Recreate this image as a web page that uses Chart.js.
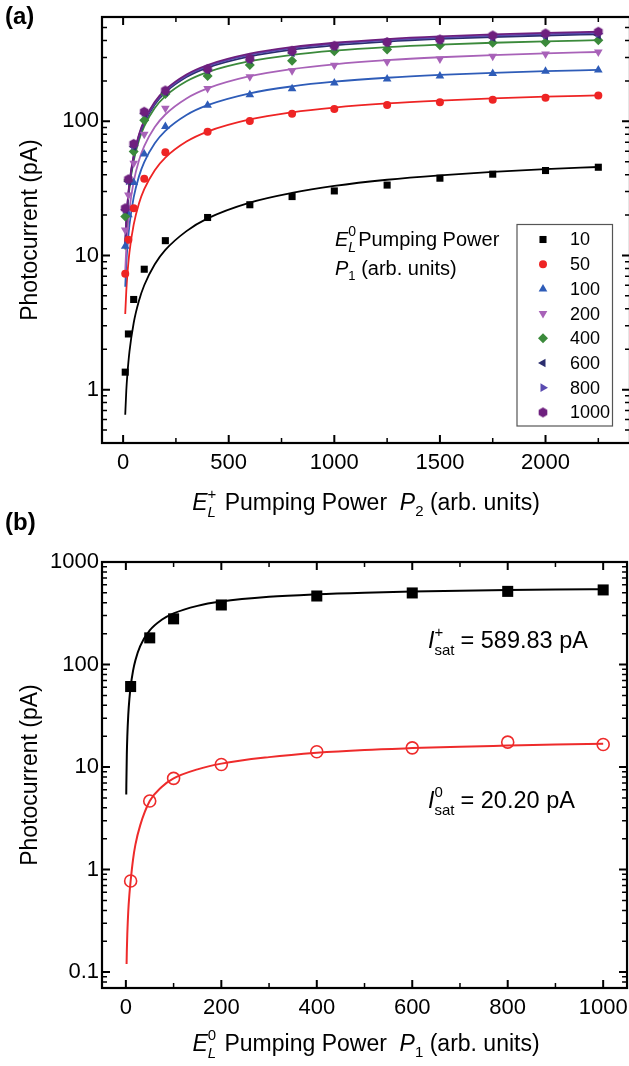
<!DOCTYPE html>
<html>
<head>
<meta charset="utf-8">
<script src="https://cdn.jsdelivr.net/npm/chart.js@4.4.0/dist/chart.umd.min.js"></script>
<style>
  html, body { margin: 0; padding: 0; background: #fff; overflow: hidden; }
  #wrap { position: relative; width: 629px; height: 1066px; overflow: hidden; }
  canvas { position: absolute; left: 0; }
  #chartA { top: 0; }
  #chartB { top: 505px; }
</style>
</head>
<body>
<div id="wrap">
  <canvas id="chartA" width="635" height="520"></canvas>
  <canvas id="chartB" width="635" height="561"></canvas>
</div>
<script>
var FONT = "'Liberation Sans', Arial, sans-serif";

// ---- panel (a): photocurrent vs P2 for several P1 ----
var seriesA = ['10', '50', '100', '200', '400', '600', '800', '1000'];
var colorsA = ['#000000', '#ee2424', '#2e5cb8', '#a862b8', '#3b8a3b', '#2b2e6e', '#5a4bb0', '#6e1f7e'];
var p2Data = [10, 25, 50, 100, 200, 400, 600, 800, 1000, 1250, 1500, 1750, 2000, 2250];
var pts10 = [1.35, 2.6, 4.7, 7.9, 12.9, 19.2, 23.9, 27.5, 30.3, 33.5, 37.7, 40.4, 43, 45.5];
var pts50 = [7.3, 13.1, 22.5, 37.3, 58.9, 83.8, 100.7, 114, 123.7, 132.4, 138.6, 145, 150, 156];
var pts100 = [11.7, 20.1, 35, 57.2, 91.4, 132, 158, 175, 193, 207, 218, 227, 236, 242];
var pts200 = [15.5, 28.3, 48.8, 80, 125, 176, 215, 238, 262, 278, 292, 306, 318, 329];
var pts400 = [19.5, 36.6, 59.5, 102, 160, 218, 263, 283, 333, 343, 370, 385, 389, 403];
var pts600 = [21.9, 35.6, 64.8, 115, 165, 241, 287, 324, 360, 385, 403, 420, 432, 439];
var pts800 = [22, 36, 66, 116, 167, 243, 290, 330, 362, 387, 405, 428, 442, 452];
var pts1000 = [22.5, 37, 68, 118, 170, 246, 294, 336, 366, 390, 408, 437, 452, 466];

// fitted curves
var p2Fit = [10, 15, 20, 30, 50, 75, 100, 150, 200, 300, 400, 600, 800, 1000, 1250, 1500, 1750, 2000, 2250];
var fit10 = [0.65, 0.98, 1.29, 1.92, 3.14, 4.6, 6.0, 8.6, 11.0, 15.2, 18.9, 24.8, 29.3, 33.0, 36.7, 39.6, 42.0, 44.0, 45.7];
var fit50 = [3.66, 5.43, 7.17, 10.6, 17.0, 24.4, 31.2, 43.3, 53.7, 70.7, 83.9, 103.3, 116.8, 126.7, 136.0, 142.9, 148.4, 152.7, 156.2];
var fit100 = [5.85, 8.69, 11.5, 16.9, 27.1, 38.9, 49.7, 68.7, 85.0, 111.5, 132.0, 161.8, 182.4, 197.5, 211.4, 221.9, 230.1, 236.6, 241.9];
var fit200 = [7.64, 11.4, 15.0, 22.1, 35.5, 51.0, 65.3, 90.7, 112.5, 148.2, 176.1, 217.0, 245.5, 266.4, 286.0, 300.7, 312.3, 321.4, 328.9];
var fit400 = [11.1, 16.5, 21.7, 31.9, 50.9, 72.4, 91.9, 125.8, 154.2, 199.2, 233.2, 281.2, 313.4, 336.6, 357.8, 373.4, 385.5, 395.0, 402.8];
var fit600 = [11.6, 17.3, 22.8, 33.4, 53.5, 76.4, 97.3, 133.8, 164.6, 214.0, 251.8, 305.7, 342.4, 369.0, 393.4, 411.5, 425.6, 436.7, 445.8];
var fit800 = [11.9, 17.7, 23.3, 34.3, 54.8, 78.3, 99.6, 137.0, 168.6, 219.2, 257.9, 313.1, 350.7, 377.9, 402.9, 421.5, 435.9, 447.3, 456.7];
var fit1000 = [12.2, 18.0, 23.8, 34.9, 55.9, 79.9, 101.6, 139.8, 172.0, 223.6, 263.1, 319.4, 357.8, 385.5, 411.0, 430.0, 444.7, 456.3, 465.8];

var xMajorA = [0, 500, 1000, 1500, 2000];
var xMinorA = [250, 750, 1250, 1750, 2250];
var yMajorA = [1, 10, 100];

// ---- panel (b): photocurrent vs P1 ----
var p1Data = [10, 50, 100, 200, 400, 600, 800, 1000];
var ptsPlus = [61, 182, 279, 381, 466, 499, 517, 534];
var ptsZero = [0.774, 4.66, 7.76, 10.6, 14.1, 15.4, 17.5, 16.6];
var p1FitPlus = [0.8, 1, 2, 3, 5, 7.5, 10, 15, 20, 30, 50, 75, 100, 150, 200, 300, 400, 500, 600, 700, 800, 900, 1000];
var fitPlus = [5.4, 6.7, 13.3, 19.7, 32.1, 46.8, 60.8, 86.8, 110.3, 151.3, 215.3, 273.1, 315.5, 373.4, 411.1, 457.4, 484.6, 502.6, 515.3, 524.8, 532.1, 538.0, 542.8];
var p1FitZero = [1.5, 2, 3, 5, 7.5, 10, 15, 20, 30, 50, 75, 100, 150, 200, 300, 400, 500, 600, 700, 800, 900, 1000];
var fitZero = [0.12, 0.16, 0.235, 0.39, 0.58, 0.774, 1.25, 1.75, 2.7, 4.66, 6.4, 7.76, 9.5, 10.8, 12.5, 13.8, 14.7, 15.3, 15.8, 16.2, 16.6, 16.9];

var xMajorB = [0, 200, 400, 600, 800, 1000];
var xMinorB = [100, 300, 500, 700, 900];
var yMajorB = [0.1, 1, 10, 100, 1000];

function pts(xs, ys) {
    return xs.map(function (x, i) { return { x: x, y: ys[i] }; });
}

function logMinors(lo, hi) {
    var out = [];
    for (var d = Math.floor(Math.log10(lo)); d <= Math.ceil(Math.log10(hi)); d++) {
        for (var k = 2; k <= 9; k++) {
            var v = k * Math.pow(10, d);
            if (v > lo && v < hi) out.push(v);
        }
    }
    return out;
}

function hexagon(color, r) {
    var c = document.createElement('canvas');
    c.width = c.height = Math.ceil(2 * r + 2);
    var g = c.getContext('2d');
    g.fillStyle = color;
    g.beginPath();
    for (var i = 0; i < 6; i++) {
        var a = Math.PI / 6 + i * Math.PI / 3;
        var px = c.width / 2 + r * Math.cos(a), py = c.height / 2 + r * Math.sin(a);
        if (i === 0) g.moveTo(px, py); else g.lineTo(px, py);
    }
    g.closePath();
    g.fill();
    return c;
}

var stylesA = [
    { pointStyle: 'rect', rotation: 0, radius: 5 },
    { pointStyle: 'circle', rotation: 0, radius: 4 },
    { pointStyle: 'triangle', rotation: 0, radius: 5 },
    { pointStyle: 'triangle', rotation: 180, radius: 5 },
    { pointStyle: 'rectRot', rotation: 0, radius: 5 },
    { pointStyle: 'triangle', rotation: 270, radius: 5 },
    { pointStyle: 'triangle', rotation: 90, radius: 5 },
    { pointStyle: hexagon(colorsA[7], 5), rotation: 0, radius: 5 }
];

function fontOf(size, italic, bold) {
    return (italic ? 'italic ' : '') + (bold ? 'bold ' : '') + size + 'px ' + FONT;
}

function partWidth(ctx, p) {
    if (p.sub !== undefined) {
        ctx.font = fontOf(p.size, p.subItalic);
        var w1 = ctx.measureText(p.sub).width;
        ctx.font = fontOf(p.size, false);
        var w2 = ctx.measureText(p.sup).width;
        return Math.max(w1, w2) + (p.gap || 0);
    }
    ctx.font = fontOf(p.size, p.italic);
    return ctx.measureText(p.t).width + (p.gap || 0);
}

function drawRich(ctx, parts, x, y, align) {
    var total = 0;
    parts.forEach(function (p) { total += partWidth(ctx, p); });
    var cx = align === 'center' ? x - total / 2 : x;
    ctx.textAlign = 'left';
    ctx.textBaseline = 'alphabetic';
    ctx.fillStyle = '#000';
    parts.forEach(function (p) {
        var w = partWidth(ctx, p);
        if (p.sub !== undefined) {
            ctx.font = fontOf(p.size, p.subItalic);
            ctx.fillText(p.sub, cx, y + p.size * 0.45);
            ctx.font = fontOf(p.size, false);
            ctx.fillText(p.sup, cx, y - p.size * 0.72);
        } else {
            ctx.font = fontOf(p.size, p.italic);
            ctx.fillText(p.t, cx, y + (p.dy || 0));
        }
        cx += w;
    });
}

function drawFrame(chart, xMajor, xMinor, yMajor, yMinor) {
    var ctx = chart.ctx, a = chart.chartArea, x = chart.scales.x, y = chart.scales.y;
    ctx.save();
    ctx.strokeStyle = '#000';
    ctx.lineWidth = 2.2;
    ctx.strokeRect(a.left, a.top, a.right - a.left, a.bottom - a.top);
    function ticks(list, len, lw) {
        ctx.lineWidth = lw;
        ctx.beginPath();
        list.forEach(function (v) {
            var px = x.getPixelForValue(v);
            ctx.moveTo(px, a.bottom); ctx.lineTo(px, a.bottom - len);
            ctx.moveTo(px, a.top); ctx.lineTo(px, a.top + len);
        });
        ctx.stroke();
    }
    function yticks(list, len, lw) {
        ctx.lineWidth = lw;
        ctx.beginPath();
        list.forEach(function (v) {
            var py = y.getPixelForValue(v);
            ctx.moveTo(a.left, py); ctx.lineTo(a.left + len, py);
            ctx.moveTo(a.right, py); ctx.lineTo(a.right - len, py);
        });
        ctx.stroke();
    }
    ticks(xMajor, 8, 2);
    ticks(xMinor, 5, 1.5);
    yticks(yMajor, 8, 2);
    yticks(yMinor, 5, 1.5);
    ctx.restore();
}

function yTitle(ctx, cx, cy) {
    ctx.save();
    ctx.translate(cx, cy);
    ctx.rotate(-Math.PI / 2);
    ctx.font = fontOf(23);
    ctx.fillStyle = '#000';
    ctx.textAlign = 'center';
    ctx.textBaseline = 'middle';
    ctx.fillText('Photocurrent (pA)', 0, 0);
    ctx.restore();
}

function panelLabel(ctx, text, x, y) {
    ctx.save();
    ctx.font = fontOf(24, false, true);
    ctx.fillStyle = '#000';
    ctx.textAlign = 'left';
    ctx.textBaseline = 'middle';
    ctx.fillText(text, x, y);
    ctx.restore();
}

function markPoint(ctx, st, color, px, py) {
    ctx.fillStyle = color;
    ctx.strokeStyle = color;
    Chart.helpers.drawPoint(ctx, { pointStyle: st.pointStyle, rotation: st.rotation, radius: st.radius, borderWidth: 0 }, px, py);
}

function xScale(min, max, major, height) {
    return {
        type: 'linear', min: min, max: max,
        grid: { display: false, drawTicks: false },
        border: { display: false },
        afterBuildTicks: function (s) { s.ticks = major.map(function (v) { return { value: v }; }); },
        afterFit: function (s) { s.height = height; },
        ticks: {
            font: { family: FONT, size: 22 }, color: '#000', padding: 7,
            autoSkip: false, maxRotation: 0, minRotation: 0,
            callback: function (v) { return String(v); }
        }
    };
}

function yScale(min, max, major) {
    return {
        type: 'logarithmic', min: min, max: max,
        grid: { display: false, drawTicks: false },
        border: { display: false },
        afterBuildTicks: function (s) { s.ticks = major.map(function (v) { return { value: v }; }); },
        afterFit: function (s) { s.width = 102; },
        ticks: {
            font: { family: FONT, size: 22 }, color: '#000', padding: 3,
            autoSkip: false,
            callback: function (v) { return String(v); }
        }
    };
}

// ---------- chart (a) ----------
var fitsA = [fit10, fit50, fit100, fit200, fit400, fit600, fit800, fit1000];
var ptsA = [pts10, pts50, pts100, pts200, pts400, pts600, pts800, pts1000];
var datasetsA = [];
seriesA.forEach(function (name, i) {
    datasetsA.push({
        label: name + ' fit',
        data: pts(p2Fit, fitsA[i]),
        showLine: true,
        borderColor: colorsA[i],
        borderWidth: 1.8,
        pointRadius: 0,
        cubicInterpolationMode: 'monotone',
        order: 30 - i
    });
    datasetsA.push({
        label: name,
        data: pts(p2Data, ptsA[i]),
        showLine: false,
        pointStyle: stylesA[i].pointStyle,
        rotation: stylesA[i].rotation,
        pointRadius: stylesA[i].radius,
        pointHoverRadius: stylesA[i].radius,
        backgroundColor: colorsA[i],
        borderColor: colorsA[i],
        borderWidth: 0,
        order: 10 - i
    });
});

var decorA = {
    id: 'decorA',
    afterDraw: function (chart) {
        var ctx = chart.ctx;
        drawFrame(chart, xMajorA, xMinorA, yMajorA, logMinors(0.4, 600));
        panelLabel(ctx, '(a)', 5, 17);
        yTitle(ctx, 31, 230);
        drawRich(ctx, [
            { t: 'E', size: 23, italic: true },
            { sub: 'L', sup: '+', size: 15, subItalic: true, gap: 2 },
            { t: ' Pumping Power  ', size: 23 },
            { t: 'P', size: 23, italic: true },
            { t: '2', size: 15, dy: 6 },
            { t: ' (arb. units)', size: 23 }
        ], 366, 510, 'center');

        // annotation
        drawRich(ctx, [
            { t: 'E', size: 20, italic: true },
            { sub: 'L', sup: '0', size: 14, subItalic: true, gap: 2 },
            { t: 'Pumping Power', size: 20 }
        ], 335, 246, 'left');
        drawRich(ctx, [
            { t: 'P', size: 20, italic: true },
            { t: '1', size: 13, dy: 5 },
            { t: ' (arb. units)', size: 20 }
        ], 335, 275, 'left');

        // legend
        ctx.save();
        ctx.fillStyle = '#fff';
        ctx.fillRect(517, 224.5, 95.5, 201.5);
        ctx.strokeStyle = '#555';
        ctx.lineWidth = 1.2;
        ctx.strokeRect(517, 224.5, 95.5, 201.5);
        seriesA.forEach(function (name, i) {
            var ry = 239.5 + 24.7 * i;
            markPoint(ctx, stylesA[i], colorsA[i], 543, ry);
            ctx.font = fontOf(18);
            ctx.fillStyle = '#000';
            ctx.textAlign = 'left';
            ctx.textBaseline = 'middle';
            ctx.fillText(name, 570, ry + 1);
        });
        ctx.restore();
    }
};

new Chart(document.getElementById('chartA'), {
    type: 'scatter',
    data: { datasets: datasetsA },
    options: {
        responsive: false,
        animation: false,
        events: [],
        layout: { padding: { top: 17, left: 0, right: 2, bottom: 0 } },
        plugins: { legend: { display: false }, tooltip: { enabled: false } },
        scales: {
            x: xScale(-100, 2400, xMajorA, 77),
            y: yScale(0.4, 600, yMajorA)
        }
    },
    plugins: [decorA]
});

// ---------- chart (b) ----------
var decorB = {
    id: 'decorB',
    afterDraw: function (chart) {
        var ctx = chart.ctx;
        drawFrame(chart, xMajorB, xMinorB, yMajorB, logMinors(0.07, 1000));
        panelLabel(ctx, '(b)', 5, 18);
        yTitle(ctx, 31, 270);
        drawRich(ctx, [
            { t: 'E', size: 23, italic: true },
            { sub: 'L', sup: '0', size: 15, subItalic: true, gap: 2 },
            { t: ' Pumping Power  ', size: 23 },
            { t: 'P', size: 23, italic: true },
            { t: '1', size: 15, dy: 6 },
            { t: ' (arb. units)', size: 23 }
        ], 366, 546, 'center');
        drawRich(ctx, [
            { t: 'I', size: 23.5, italic: true },
            { sub: 'sat', sup: '+', size: 15, subItalic: false, gap: 6 },
            { t: '= 589.83 pA', size: 23.5 }
        ], 428, 143, 'left');
        drawRich(ctx, [
            { t: 'I', size: 23.5, italic: true },
            { sub: 'sat', sup: '0', size: 15, subItalic: false, gap: 6 },
            { t: '= 20.20 pA', size: 23.5 }
        ], 428, 303, 'left');
    }
};

new Chart(document.getElementById('chartB'), {
    type: 'scatter',
    data: {
        datasets: [
            {
                label: 'I+ fit', data: pts(p1FitPlus, fitPlus), showLine: true,
                borderColor: '#000', borderWidth: 2, pointRadius: 0,
                cubicInterpolationMode: 'monotone', order: 4
            },
            {
                label: 'I0 fit', data: pts(p1FitZero, fitZero), showLine: true,
                borderColor: '#ee2b2b', borderWidth: 2, pointRadius: 0,
                cubicInterpolationMode: 'monotone', order: 3
            },
            {
                label: 'I+', data: pts(p1Data, ptsPlus), showLine: false,
                pointStyle: 'rect', pointRadius: 7.8, pointHoverRadius: 7.8,
                backgroundColor: '#000', borderColor: '#000', borderWidth: 0, order: 1
            },
            {
                label: 'I0', data: pts(p1Data, ptsZero), showLine: false,
                pointStyle: 'circle', pointRadius: 6, pointHoverRadius: 6,
                backgroundColor: 'rgba(0,0,0,0)', borderColor: '#ee2b2b', borderWidth: 1.6, order: 2
            }
        ]
    },
    options: {
        responsive: false,
        animation: false,
        events: [],
        layout: { padding: { top: 57, left: 0, right: 2, bottom: 0 } },
        plugins: { legend: { display: false }, tooltip: { enabled: false } },
        scales: {
            x: xScale(-50, 1050, xMajorB, 78),
            y: yScale(0.07, 1000, yMajorB)
        }
    },
    plugins: [decorB]
});
</script>
</body>
</html>
